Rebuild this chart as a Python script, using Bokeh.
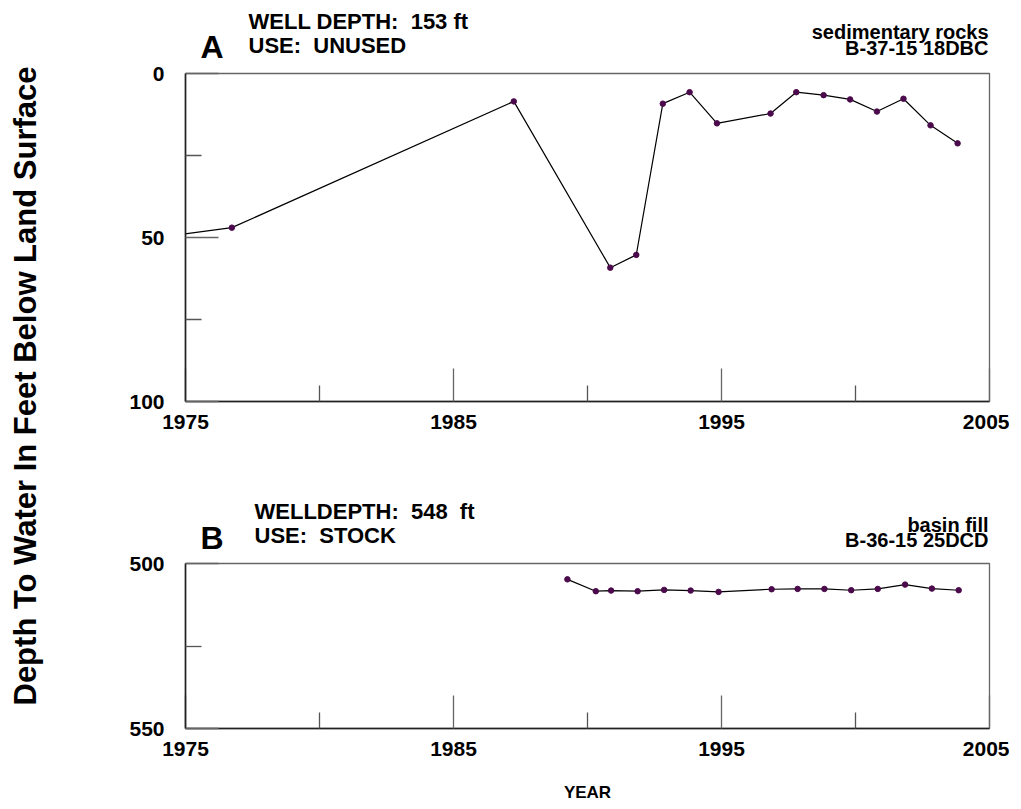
from bokeh.plotting import figure
from bokeh.models import Range1d, FixedTicker, Label, Title
from bokeh.layouts import row, column
from bokeh.embed import file_html
from bokeh.resources import INLINE

FONT = "Liberation Sans"
NB = "\u00a0"

# ---- data ----
years_a = [1974.0, 1976.73, 1987.25, 1990.85, 1991.82, 1992.81, 1993.81, 1994.83,
           1996.83, 1997.79, 1998.81, 1999.80, 2000.80, 2001.79, 2002.80, 2003.81]
depth_a = [50.0, 47.0, 8.5, 59.2, 55.3, 9.2, 5.7, 15.2,
           12.2, 5.7, 6.6, 7.9, 11.6, 7.7, 15.8, 21.3]

years_b = [1989.25, 1990.31, 1990.88, 1991.87, 1992.86, 1993.85, 1994.89, 1996.87,
           1997.84, 1998.84, 1999.84, 2000.83, 2001.85, 2002.85, 2003.85]
depth_b = [504.8, 508.4, 508.2, 508.4, 508.0, 508.2, 508.6, 507.8,
           507.7, 507.7, 508.1, 507.7, 506.4, 507.6, 508.1]

x_major = [1975, 1985, 1995, 2005]
x_minor = [1980, 1990, 2000]
ya_major = [0, 50, 100]
ya_minor = [25, 75]
yb_major = [500, 550]
yb_minor = [525]

header_a = ["WELL DEPTH:" + NB + " 153 ft", "USE:" + NB + " UNUSED",
            "sedimentary rocks", "B-37-15 18DBC"]
header_b = ["WELLDEPTH:" + NB + " 548" + NB + " ft", "USE:" + NB + " STOCK",
            "basin fill", "B-36-15 25DCD"]
y_title = "Depth To Water In Feet Below Land Surface"

TITLE_W = 63
LEFT = 122
FRAME_W = 804
RIGHT = 20
W = LEFT + FRAME_W + RIGHT
GAP = 13  # px between header strip and plot frame (room for the top tick label)


def lab(fig, x, y, xo, text, size, align):
    fig.add_layout(Label(x=x, y=y, x_offset=xo, text=text,
                         text_font=FONT, text_font_style="bold", text_font_size=size,
                         text_baseline="alphabetic", text_align=align, text_color="black"))


def header(hh, letter, hdr, pos):
    h = figure(width=W, height=hh, x_range=Range1d(1975, 2005),
               y_range=Range1d(GAP, GAP + hh),
               output_backend="svg", toolbar_location=None, title=None,
               x_axis_location=None, y_axis_location=None,
               min_border_left=LEFT, min_border_right=RIGHT,
               min_border_top=0, min_border_bottom=0)
    h.outline_line_color = None
    h.grid.visible = False
    lab(h, 1975, pos[0], 15, letter, "32px", "left")
    lab(h, 1975, pos[2], pos[1], hdr[0], "22px", "left")
    lab(h, 1975, pos[3], pos[1], hdr[1], "22px", "left")
    lab(h, 2005, pos[4], -1, hdr[2], "20px", "right")
    lab(h, 2005, pos[5], -1, hdr[3], "20px", "right")
    return h


def panel(years, depth, yr, ymaj, ymin, h, bottom, xlabel=None):
    p = figure(width=W, height=h, x_range=Range1d(1975, 2005), y_range=Range1d(*yr),
               output_backend="svg", toolbar_location=None, title=None,
               min_border_left=LEFT, min_border_right=RIGHT,
               min_border_top=GAP, min_border_bottom=bottom)
    p.grid.visible = False
    p.outline_line_color = "#666666"
    p.outline_line_width = 1.3
    p.xaxis.ticker = FixedTicker(ticks=x_major, minor_ticks=x_minor)
    p.yaxis.ticker = FixedTicker(ticks=ymaj, minor_ticks=ymin)
    for ax in p.axis:
        ax.major_tick_in = 33
        ax.major_tick_out = 0
        ax.minor_tick_in = 16
        ax.minor_tick_out = 0
        ax.major_tick_line_color = "#666666"
        ax.minor_tick_line_color = "#555555"
        ax.major_tick_line_width = 1.3
        ax.minor_tick_line_width = 1.3
        ax.axis_line_color = "#222222"
        ax.axis_line_width = 1.6
        ax.major_label_text_font = FONT
        ax.major_label_text_font_style = "bold"
        ax.major_label_text_font_size = "21px"
        ax.major_label_text_color = "black"
    p.xaxis.major_label_standoff = 13
    p.yaxis.major_label_standoff = 21
    if xlabel:
        p.xaxis.axis_label = xlabel
        p.xaxis.axis_label_text_font = FONT
        p.xaxis.axis_label_text_font_style = "bold"
        p.xaxis.axis_label_text_font_size = "17px"
        p.xaxis.axis_label_text_color = "black"
        p.xaxis.axis_label_standoff = 24

    p.line(years, depth, line_color="black", line_width=1.2)
    p.scatter(years, depth, size=5.5, fill_color="#4b0a4b", line_color="#4b0a4b")
    return p


# header y values: nominal baseline height (px) above the plot frame's top edge
ha = header(60, "A", header_a, (27, 63, 52, 28, 42, 26))
pa = panel(years_a, depth_a, (100, 0), ya_major, ya_minor, 409, 68)
hb = header(81, "B", header_b, (26, 69, 52, 28, 39, 24))
pb = panel(years_b, depth_b, (550, 500), yb_major, yb_minor, 262, 84, xlabel="YEAR")

pt = figure(width=TITLE_W, height=812, x_axis_location=None, y_axis_location=None,
            toolbar_location=None, output_backend="svg", title=None,
            min_border_left=0, min_border_right=0, min_border_top=67, min_border_bottom=108)
pt.outline_line_color = None
pt.grid.visible = False
pt.add_layout(Title(text=y_title, align="center", text_font=FONT, text_font_style="bold",
                    text_font_size="31px", text_color="black"), "left")

layout = row(pt, column(ha, pa, hb, pb))

open("out.html", "w").write(file_html(layout, INLINE))
